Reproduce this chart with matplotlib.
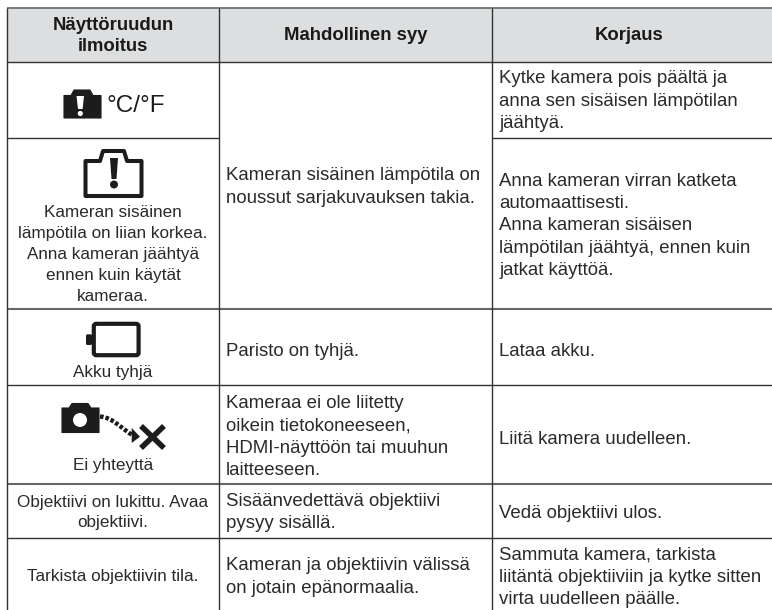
import matplotlib
matplotlib.use("Agg")
import matplotlib.pyplot as plt
from matplotlib.patches import Rectangle, FancyBboxPatch, Polygon, Circle, PathPatch
from matplotlib.path import Path

plt.rcParams['font.family'] = ['Liberation Sans', 'DejaVu Sans']

headers = ["Näyttöruudun\nilmoitus", "Mahdollinen syy", "Korjaus"]
col1_texts = ["Kameran sisäinen\nlämpötila on liian korkea.\nAnna kameran jäähtyä\nennen kuin käytät\nkameraa.",
              "Akku tyhjä", "Ei yhteyttä",
              "Objektiivi on lukittu. Avaa\nobjektiivi.", "Tarkista objektiivin tila."]
col2_texts = ["Kameran sisäinen lämpötila on\nnoussut sarjakuvauksen takia.",
              "Paristo on tyhjä.",
              "Kameraa ei ole liitetty\noikein tietokoneeseen,\nHDMI-näyttöön tai muuhun\nlaitteeseen.",
              "Sisäänvedettävä objektiivi\npysyy sisällä.",
              "Kameran ja objektiivin välissä\non jotain epänormaalia."]
col3_texts = ["Kytke kamera pois päältä ja\nanna sen sisäisen lämpötilan\njäähtyä.",
              "Anna kameran virran katketa\nautomaattisesti.\nAnna kameran sisäisen\nlämpötilan jäähtyä, ennen kuin\njatkat käyttöä.",
              "Lataa akku.", "Liitä kamera uudelleen.", "Vedä objektiivi ulos.",
              "Sammuta kamera, tarkista\nliitäntä objektiiviin ja kytke sitten\nvirta uudelleen päälle."]

W, H = 772, 610
X = [7, 219, 492, 772]
Y = [8, 61.5, 137.5, 309, 385, 484, 537.5, 610]
LC = '#333333'
LC2 = '#666666'
TC = '#2a2a2a'
FS = 13.4
FS_S = 12.35
LS = 1.40
LS_S = 1.48

fig = plt.figure(figsize=(W/100, H/100), dpi=100)
ax = fig.add_axes([0, 0, 1, 1])
ax.set_xlim(0, W); ax.set_ylim(H, 0); ax.axis('off')

ax.add_patch(Rectangle((X[0], Y[0]), X[3]-X[0], Y[1]-Y[0], fc='#dcdee0', ec='none'))

def hl(y, a, b, lw=1.0, c=LC):
    ax.plot([a, b], [y, y], color=c, lw=lw, solid_capstyle='butt')
def vl(x, a, b, lw=1.0, c=LC):
    ax.plot([x, x], [a, b], color=c, lw=lw, solid_capstyle='butt')

hl(Y[0], X[0], X[3], 1.2, LC2); hl(Y[1], X[0], X[3], 1.0)
hl(Y[2], X[0], X[1], 1.0); hl(Y[2], X[2], X[3], 1.0)
hl(Y[3], X[0], X[3], 1.5, LC2)
hl(Y[4], X[0], X[3], 1.0); hl(Y[5], X[0], X[3], 1.5, LC2); hl(Y[6], X[0], X[3], 1.0)
for x in X[:3]:
    vl(x, Y[0], Y[7], 1.0)

cx = [X[0] + 106, (X[1]+X[2])/2, 629]
ax.text(cx[0], 36, headers[0], ha='center', va='center', fontsize=13.35, weight='bold',
        color='#1a1a1a', linespacing=1.32)
for i in (1, 2):
    ax.text(cx[i], 36, headers[i], ha='center', va='center', fontsize=13.35, weight='bold', color='#1a1a1a')

def c1(t, y):
    ax.text(cx[0], y, t, ha='center', va='center', fontsize=FS_S, color=TC, linespacing=LS_S)
def left(t, col, y):
    ax.text(X[col]+7, y, t, ha='left', va='center', fontsize=FS, color=TC, linespacing=LS)

c1(col1_texts[0], 254.5)
c1(col1_texts[1], 372)
c1(col1_texts[2], 465.5)
c1(col1_texts[3], 512.5)
c1(col1_texts[4], 576.5)

left(col2_texts[0], 1, 187)
left(col2_texts[1], 1, 351)
left(col2_texts[2], 1, 437)
left(col2_texts[3], 1, 512.5)
left(col2_texts[4], 1, 577)

left(col3_texts[0], 2, 101)
left(col3_texts[1], 2, 226)
left(col3_texts[2], 2, 351.5)
left(col3_texts[3], 2, 439)
left(col3_texts[4], 2, 514)
left(col3_texts[5], 2, 577)

INK = '#1c1c1c'

def cam_outline(x0, x1, y0, y1, bx0, bx1, by):
    return [(x0, y1), (x0, y0), (bx0, y0), (bx0+3, by), (bx1-3, by), (bx1, y0), (x1, y0), (x1, y1), (x0, y1)]

# icon 1: filled camera with exclamation
ax.add_patch(Polygon(cam_outline(64, 101, 95.5, 118, 71, 93, 90), closed=True, fc=INK, ec=INK, lw=0.8, joinstyle='round'))
ax.add_patch(Polygon([(76.5, 96), (84, 96), (82.6, 109), (78, 109)], closed=True, fc='white', ec='none'))
ax.add_patch(Circle((80.3, 113.5), 2.6, fc='white', ec='none'))
ax.text(106, 106, "°C/°F", ha='left', va='center', fontsize=17.5, color=INK)

# icon 2: outline camera
ax.add_patch(Polygon(cam_outline(85.5, 141.5, 161, 196, 100, 127, 151), closed=True, fc='none', ec=INK, lw=2.9, joinstyle='round'))
ax.add_patch(Polygon([(110, 158), (118, 158), (116.5, 179), (111.5, 179)], closed=True, fc=INK, ec='none'))
ax.add_patch(Circle((114, 184.5), 4, fc=INK, ec='none'))

# icon 3: battery
ax.add_patch(FancyBboxPatch((93.8, 323.8), 44.8, 31.4, boxstyle='round,pad=0,rounding_size=2.5', fc='none', ec=INK, lw=3.0))
ax.add_patch(FancyBboxPatch((86, 334.3), 6, 10.7, boxstyle='round,pad=0,rounding_size=1.5', fc=INK, ec='none'))

# icon 4: camera, dotted arrow, cross
ax.add_patch(Polygon(cam_outline(62, 99, 408, 432.5, 69, 91, 403.5), closed=True, fc=INK, ec=INK, lw=0.8, joinstyle='round'))
ax.add_patch(Circle((80, 420), 7, fc='white', ec='none'))
arc = Path([(100, 416.5), (114, 418), (120, 428), (134, 436)], [Path.MOVETO, Path.CURVE4, Path.CURVE4, Path.CURVE4])
ax.add_patch(PathPatch(arc, fc='none', ec=INK, lw=3.2, linestyle=(0, (0.8, 0.45))))
ax.add_patch(Polygon([(131.7, 428), (140, 436.7), (131.7, 443)], closed=True, fc=INK, ec='none'))
ax.plot([141, 164], [426, 448], color=INK, lw=4.0, solid_capstyle='butt')
ax.plot([164, 141], [426, 448], color=INK, lw=4.0, solid_capstyle='butt')

fig.savefig('out.png', dpi=100)
